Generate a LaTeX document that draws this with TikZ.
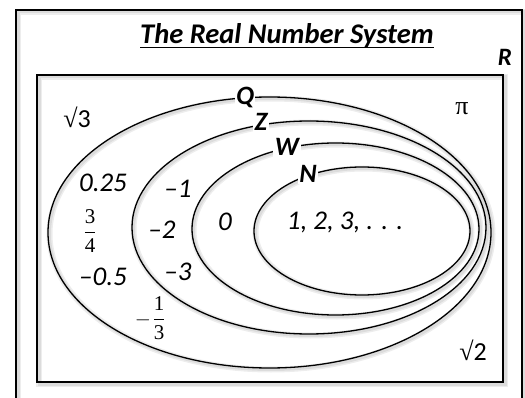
\documentclass[tikz,border=0pt]{standalone}
\usepackage{fontspec}
\setmainfont{Carlito}
\newfontfamily\tms{Liberation Serif}
\newcommand{\myfrac}[2]{$\displaystyle{\hbox{\tms #1}\above 1.6pt \hbox{\tms #2}}$}
\begin{document}
\begin{tikzpicture}[x=1pt,y=-1pt,
  glow/.style={draw=black, opacity=0.07, line width=6pt},
  glowin/.style={draw=black, opacity=0.07, line width=3pt},
  ring/.style={draw=black, line width=1.3pt},
  boxline/.style={draw=black, line width=2pt},
  setlbl/.style={fill=white, inner sep=1.5pt, font=\fontsize{26.5}{30}\selectfont\bfseries\itshape},
  num/.style={inner sep=0pt, font=\fontsize{27}{32}\selectfont\itshape},
  irr/.style={inner sep=0pt, font=\fontsize{26}{30}\selectfont},
  fracs/.style={inner sep=0pt, font=\fontsize{21}{26}\selectfont}]
\useasboundingbox (0,0) rectangle (525,398);
\clip (0,0) rectangle (525,398);
% soft shadows
\foreach \s in {glow,glowin}{
\draw[\s, shift={(2,2)}] (16,10) rectangle (522,430);
\draw[\s, shift={(2,2)}] (37,75) rectangle (503,382);
\draw[\s, shift={(1.5,1.5)}] (269.5,232.5) ellipse [x radius=221.5, y radius=135.5];
\draw[\s, shift={(1.5,1.5)}] (309,227.5) ellipse [x radius=177, y radius=106.5];
\draw[\s, shift={(1.5,1.5)}] (335.5,229) ellipse [x radius=143.5, y radius=86];
\draw[\s, shift={(1.5,1.5)}] (362,231) ellipse [x radius=108, y radius=64];
}
% boxes
\draw[boxline] (16,10) rectangle (522,430);
\draw[boxline] (37,75) rectangle (503,382);
% ellipses
\draw[ring] (269.5,232.5) ellipse [x radius=221.5, y radius=135.5];
\draw[ring] (309,227.5) ellipse [x radius=177, y radius=106.5];
\draw[ring] (335.5,229) ellipse [x radius=143.5, y radius=86];
\draw[ring] (362,231) ellipse [x radius=108, y radius=64];
% title
\node[inner sep=0pt, anchor=base, font=\fontsize{28.5}{34}\selectfont\bfseries\itshape] (title) at (287,43.3) {The Real Number System};
\draw[line width=1.5pt] ([yshift=-4pt]title.base west) -- ([yshift=-4pt]title.base east);
\node[inner sep=0pt, font=\fontsize{25}{30}\selectfont\bfseries\itshape] (R) at (505,57) {R};
% set labels
\node[setlbl] (Q) at (245,97) {Q};
\node[setlbl] (Z) at (261,122) {Z};
\node[setlbl] (W) at (287,147) {W};
\node[setlbl] (N) at (308,174) {N};
% irrationals
\node[irr] (sq3) at (77,117) {{\tms √}3};
\node[irr] (pi) at (462,109) {{\tms π}};
\node[irr] (sq2) at (473,350) {{\tms √}2};
% rationals
\node[num] (q1) at (103,183) {0.25};
\node[fracs] (q2) at (90,231) {\myfrac{3}{4}};
\node[num] (q3) at (103,277) {–0.5};
\node[fracs] (q4m) at (143,320) {$-$};
\node[fracs] (q4) at (159,318) {\myfrac{1}{3}};
% integers
\node[num] (z1) at (178,189) {–1};
\node[num] (z2) at (162,230) {–2};
\node[num] (z3) at (178,272) {–3};
% whole
\node[num] (w0) at (225,222) {0};
% natural
\node[num] (n1) at (345,222) {1, 2, 3, . . .};
\end{tikzpicture}
\end{document}
